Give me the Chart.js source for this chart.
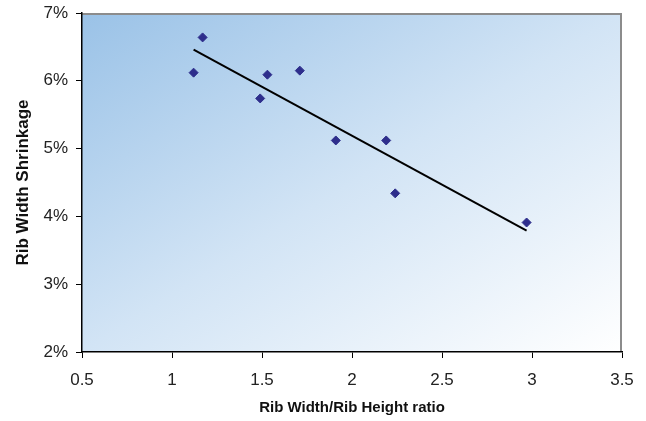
<!DOCTYPE html>
<html lang="en">
<head>
  <meta charset="UTF-8">
  <title>Rib Width Shrinkage</title>
  <script src="https://cdn.jsdelivr.net/npm/chart.js"></script>
  <style>
    body { margin: 0; background: #fff; }
    #wrap { width: 646px; height: 421px; }
  </style>
</head>
<body>
  <div id="wrap"><canvas id="shrinkChart"></canvas></div>
  <script>
    // measured points
    const ratio = [1.12, 1.17, 1.49, 1.53, 1.71, 1.91, 2.19, 2.24, 2.97];
    const shrink = [6.12, 6.64, 5.74, 6.09, 6.15, 5.12, 5.12, 4.34, 3.91];
    // trend line end points
    const trendX = [1.12, 2.97];
    const trendY = [6.46, 3.79];
    const xTicks = [0.5, 1, 1.5, 2, 2.5, 3, 3.5];

    const pts = ratio.map((x, i) => ({ x, y: shrink[i] }));
    const trend = trendX.map((x, i) => ({ x, y: trendY[i] }));

    const plotBg = {
      id: 'plotBg',
      beforeDraw(chart) {
        const { ctx, chartArea: a } = chart;
        const w = a.right - a.left, h = a.bottom - a.top;
        ctx.save();
        // gradient in unit square so corners top-right / bottom-left match
        ctx.translate(a.left, a.top);
        ctx.scale(w, h);
        const g = ctx.createLinearGradient(0, 0, 1, 1);
        g.addColorStop(0, '#9ac2e7');
        g.addColorStop(0.5, '#d2e4f5');
        g.addColorStop(1, '#ffffff');
        ctx.fillStyle = g;
        ctx.fillRect(0, 0, 1, 1);
        ctx.restore();
        ctx.save();
        ctx.strokeStyle = '#8c8c8c';
        ctx.lineWidth = 2;
        ctx.beginPath();
        ctx.moveTo(a.left, a.top + 1);
        ctx.lineTo(a.right - 1, a.top + 1);
        ctx.lineTo(a.right - 1, a.bottom);
        ctx.stroke();
        ctx.restore();
      }
    };

    new Chart(document.getElementById('shrinkChart'), {
      type: 'scatter',
      data: {
        datasets: [
          {
            data: trend,
            showLine: true,
            borderColor: '#000',
            borderWidth: 2,
            pointRadius: 0,
            order: 2
          },
          {
            data: pts,
            pointStyle: 'rectRot',
            pointRadius: 4.5,
            backgroundColor: '#2e2e8c',
            borderColor: '#2e2e8c',
            borderWidth: 1,
            order: 1
          }
        ]
      },
      options: {
        responsive: true,
        maintainAspectRatio: false,
        animation: false,
        layout: { padding: { top: 13, right: 24, left: 0, bottom: 0 } },
        plugins: { legend: { display: false }, tooltip: { enabled: false } },
        scales: {
          x: {
            min: 0.5, max: 3.5,
            afterBuildTicks: s => { s.ticks = xTicks.map(v => ({ value: v })); },
            afterFit: s => { s.height = 69; s.paddingLeft = 0; s.paddingRight = 0; },
            ticks: {
              color: '#222',
              font: { family: 'Liberation Sans', size: 17 },
              padding: 12,
              maxRotation: 0,
              callback: v => String(v)
            },
            grid: { drawOnChartArea: false, color: '#000', tickLength: 6 },
            border: { color: '#000', width: 1.5 },
            title: {
              display: true,
              text: 'Rib Width/Rib Height ratio',
              color: '#111',
              font: { family: 'Liberation Sans', size: 15, weight: 'bold' },
              padding: { top: 4, bottom: 4 }
            }
          },
          y: {
            min: 2, max: 7,
            afterFit: s => { s.width = 82; s.paddingTop = 0; s.paddingBottom = 0; },
            ticks: {
              stepSize: 1,
              color: '#222',
              font: { family: 'Liberation Sans', size: 17 },
              padding: 8,
              callback: v => v + '%'
            },
            grid: { drawOnChartArea: false, color: '#000', tickLength: 6 },
            border: { color: '#000', width: 1.5 },
            title: {
              display: true,
              text: 'Rib Width Shrinkage',
              color: '#111',
              font: { family: 'Liberation Sans', size: 17, weight: 'bold' },
              padding: { top: 13, bottom: 0 }
            }
          }
        }
      },
      plugins: [plotBg]
    });
  </script>
</body>
</html>
